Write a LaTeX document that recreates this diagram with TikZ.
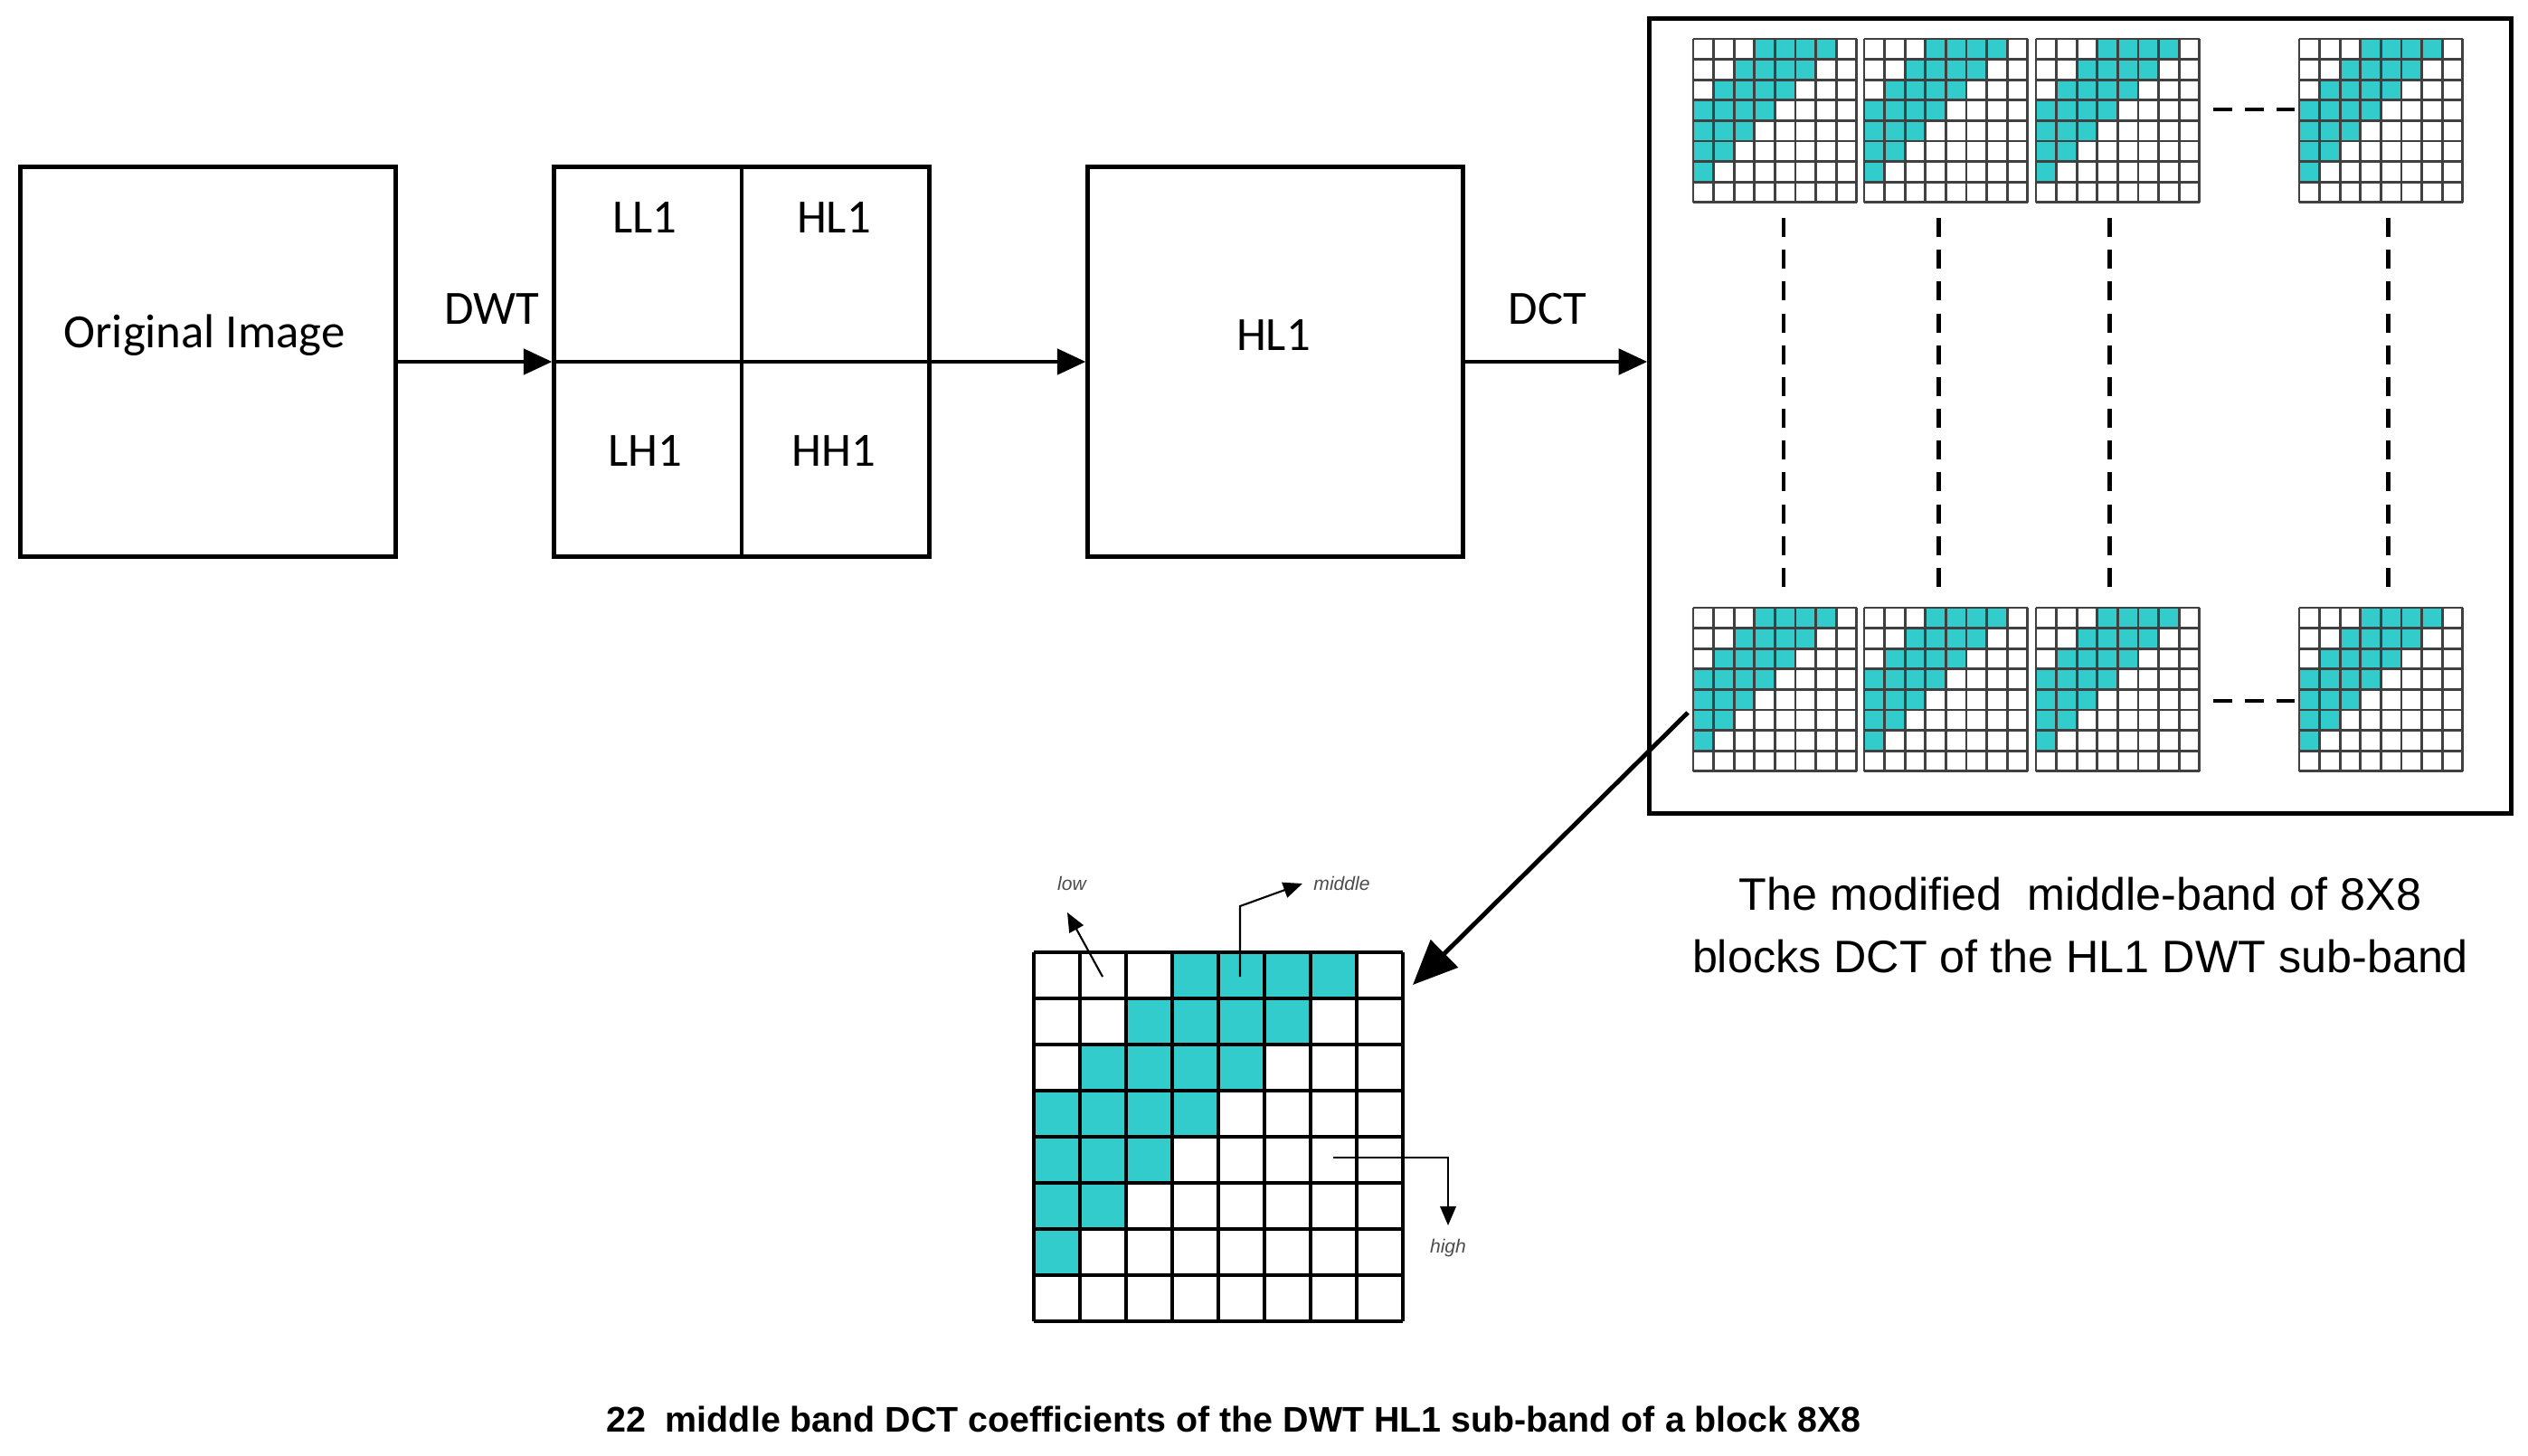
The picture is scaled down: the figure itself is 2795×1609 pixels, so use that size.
\documentclass[tikz,border=0pt]{standalone}
\usepackage{fontspec}
\setmainfont{Carlito}
\newfontfamily\arial{Liberation Sans}
\usetikzlibrary{arrows.meta}
\definecolor{tealc}{RGB}{51,204,204}
\newcommand\dctblk[5]{% x, y, cell, line width, colour
  \foreach \r in {0,...,7}{\foreach \c in {0,...,7}{
    \pgfmathtruncatemacro\ss{\r+\c}
    \ifnum\ss>2 \ifnum\ss<7 \fill[tealc] ({#1+\c*#3},{#2+\r*#3}) rectangle ++(#3,#3);\fi\fi}}
  \foreach \i in {0,...,8}{
    \draw[line width=#4,#5] ({#1+\i*#3},#2) -- ++(0,8*#3);
    \draw[line width=#4,#5] (#1,{#2+\i*#3}) -- ++(8*#3,0);}
}
\begin{document}
\begin{tikzpicture}[x=0.01cm,y=-0.01cm,
  box/.style={draw,line width=1.4pt,inner sep=0,minimum width=4.14cm,minimum height=4.3cm},
  lbl/.style={font=\fontsize{15}{18}\selectfont},
  arr/.style={line width=1.4pt,-{Triangle[length=9pt,width=8pt]}},
  dsh/.style={line width=1.4pt,dash pattern=on 6pt off 4pt},
  tiny/.style={font=\arial\itshape\fontsize{6}{7}\selectfont,text=black!70},
  thin/.style={line width=0.6pt,-{Triangle[length=6pt,width=5pt]}}]
\useasboundingbox (0,0) rectangle (2795,1609);
\node[box] (orig) at (230,400) {};
\node[lbl] (origt) at (226,371) {Original Image};
\node[box] (sub) at (820,400) {};
\node[box] (hl) at (1410,400) {};
\node[lbl] (hlt) at (1408,371) {HL1};
\draw[line width=1.4pt] (sub.north) -- (sub.south);
\draw[line width=1.4pt] (sub.west) -- (sub.east);
\node[lbl] (ll) at (713,241) {LL1};
\node[lbl] (hl1) at (922,241) {HL1};
\node[lbl] (lh) at (713,499) {LH1};
\node[lbl] (hh) at (922,499) {HH1};
\node[draw,line width=1.4pt,inner sep=0,minimum width=9.52cm,minimum height=8.79cm] (big) at (2300,460) {};
\draw[arr] (orig.east) -- (sub.west);
\draw[arr] (sub.east) -- (hl.west);
\draw[arr] (hl.east) -- (big.west |- hl.east);
\node[lbl] (dwt) at (544,342) {DWT};
\node[lbl] (dct) at (1711,342) {DCT};
% small blocks
\foreach \x in {1872,2061,2251,2542}{
  \dctblk{\x}{43}{22.6}{0.8pt}{black!75}
  \dctblk{\x}{672}{22.6}{0.8pt}{black!75}
}
\coordinate (h1a) at (2447,121); \coordinate (h1b) at (2537,121);
\coordinate (h2a) at (2447,775); \coordinate (h2b) at (2537,775);
\draw[dsh] (h1a) -- (h1b);
\draw[dsh] (h2a) -- (h2b);
\foreach \x in {1972,2143,2332,2640}{
  \coordinate (va) at (\x,241); \coordinate (vb) at (\x,651);
  \draw[dsh] (va) -- (vb);
}
% big grid
\dctblk{1143}{1053}{51}{1.4pt}{black}
\coordinate (ds) at (1866,788); \coordinate (de) at (1562,1089);
\draw[line width=1.4pt,-{Triangle[length=14pt,width=12pt]}] (ds) -- (de);
\node[tiny] (low) at (1185,977) {low};
\coordinate (la) at (1219,1080); \coordinate (lb) at (1180,1009);
\draw[thin] (la) -- (lb);
\node[tiny,anchor=west] (mid) at (1440,977) {middle};
\coordinate (ma) at (1371,1080); \coordinate (mb) at (1371,1002);
\draw[thin] (ma) -- (mb) -- (mid.west);
\node[tiny] (high) at (1601,1380) {high};
\coordinate (ha) at (1474,1280); \coordinate (hb) at (1601,1280); \coordinate (hc) at (1601,1355);
\draw[thin] (ha) -- (hb) -- (hc);
\node[font=\arial\fontsize{14.3}{19.5}\selectfont,align=center] (cap) at (2300,1023) {The modified\ \ middle-band of 8X8\\blocks DCT of the HL1 DWT sub-band};
\node[font=\arial\bfseries\fontsize{11.2}{13}\selectfont] (cap2) at (1364,1569) {22\ \ middle band DCT coefficients of the DWT HL1 sub-band of a block 8X8};
\end{tikzpicture}
\end{document}
